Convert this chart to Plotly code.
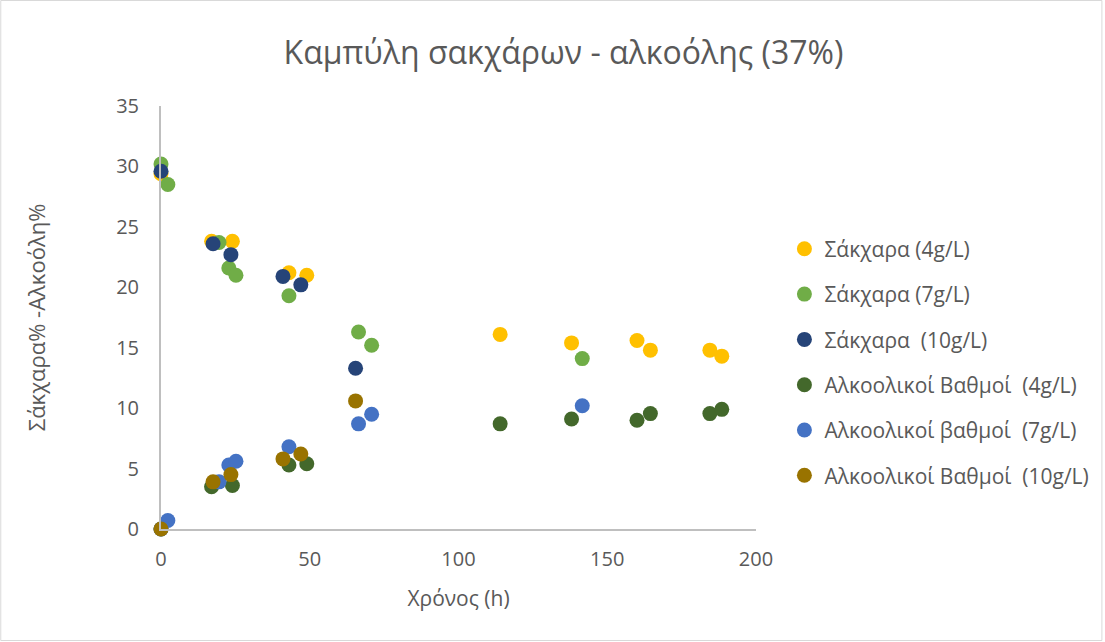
import plotly.graph_objects as go

# Sampling times (h) for each yeast dose
time_4 = [0, 17, 24, 43, 49, 114, 138, 160, 164.5, 184.5, 188.5]
time_7 = [0, 2.3, 19.5, 22.8, 25.2, 43, 66.4, 70.8, 141.6]
time_10 = [0, 17.5, 23.5, 41, 47, 65.4]

# Sugar content (%)
sugar_4 = [29.4, 23.8, 23.8, 21.2, 21.0, 16.1, 15.4, 15.6, 14.8, 14.8, 14.3]
sugar_7 = [30.2, 28.5, 23.7, 21.6, 21.0, 19.3, 16.3, 15.2, 14.1]
sugar_10 = [29.6, 23.6, 22.7, 20.9, 20.2, 13.3]

# Alcohol degrees
alcohol_4 = [0, 3.5, 3.6, 5.3, 5.4, 8.7, 9.1, 9.0, 9.55, 9.55, 9.9]
alcohol_7 = [0, 0.7, 3.9, 5.3, 5.6, 6.8, 8.7, 9.5, 10.2]
alcohol_10 = [0, 3.9, 4.5, 5.8, 6.2, 10.6]

series = [
    ("Σάκχαρα (4g/L)", time_4, sugar_4, "#FFC000"),
    ("Σάκχαρα (7g/L)", time_7, sugar_7, "#70AD47"),
    ("Σάκχαρα  (10g/L)", time_10, sugar_10, "#264478"),
    ("Αλκοολικοί Βαθμοί  (4g/L)", time_4, alcohol_4, "#43682B"),
    ("Αλκοολικοί βαθμοί  (7g/L)", time_7, alcohol_7, "#4472C4"),
    ("Αλκοολικοί Βαθμοί  (10g/L)", time_10, alcohol_10, "#997300"),
]

FONT = "Open Sans"
GREY = "#595959"
AXIS = "#BFBFBF"

W, H = 1105, 642
ML, MR, MT, MB = 161, 348, 106, 113

fig = go.Figure()
for i, (name, x, y, color) in enumerate(series):
    fig.add_trace(go.Scatter(
        x=x, y=y, mode="markers", name=name,
        legendgroup=f"g{i}",
        marker=dict(size=15, color=color, line=dict(width=0)),
        cliponaxis=False,
    ))

pw = W - ML - MR
ph = H - MT - MB

fig.update_layout(
    width=W, height=H,
    margin=dict(l=ML, r=MR, t=MT, b=MB),
    paper_bgcolor="white", plot_bgcolor="white",
    font=dict(family=FONT, color=GREY),
    title=dict(
        text="Καμπύλη σακχάρων - αλκοόλης (37%)",
        x=0.51, xanchor="center", y=0.918, yanchor="middle",
        font=dict(size=32, color=GREY, family=FONT),
    ),
    xaxis=dict(
        range=[0, 200], dtick=50, showgrid=False, zeroline=False,
        showline=True, linecolor=AXIS, linewidth=2,
        ticks="", tickfont=dict(size=20, color=GREY),
        ticklabelstandoff=11,
        title=dict(text="Χρόνος (h)", font=dict(size=21, color=GREY), standoff=20),
    ),
    yaxis=dict(
        range=[0, 35], dtick=5, showgrid=False, zeroline=False,
        showline=True, linecolor=AXIS, linewidth=2,
        ticks="", tickfont=dict(size=20, color=GREY),
        ticklabelstandoff=16,
        title=dict(text="Σάκχαρα% -Αλκοόλη%", font=dict(size=22, color=GREY), standoff=64),
    ),
    legend=dict(
        x=1.046, xanchor="left", y=0.71, yanchor="top",
        font=dict(size=21, color=GREY, family=FONT),
        tracegroupgap=15, itemwidth=30,
        bgcolor="rgba(0,0,0,0)",
    ),
    showlegend=True,
)

# Thin outer frame around the whole chart
fig.add_shape(
    type="rect", xref="paper", yref="paper",
    x0=(-ML + 0.5) / pw, x1=(pw + MR - 1.5) / pw,
    y0=(-MB + 1.5) / ph, y1=(ph + MT - 0.5) / ph,
    line=dict(color="#D9D9D9", width=1), layer="below",
)

fig.write_html("out.html")
